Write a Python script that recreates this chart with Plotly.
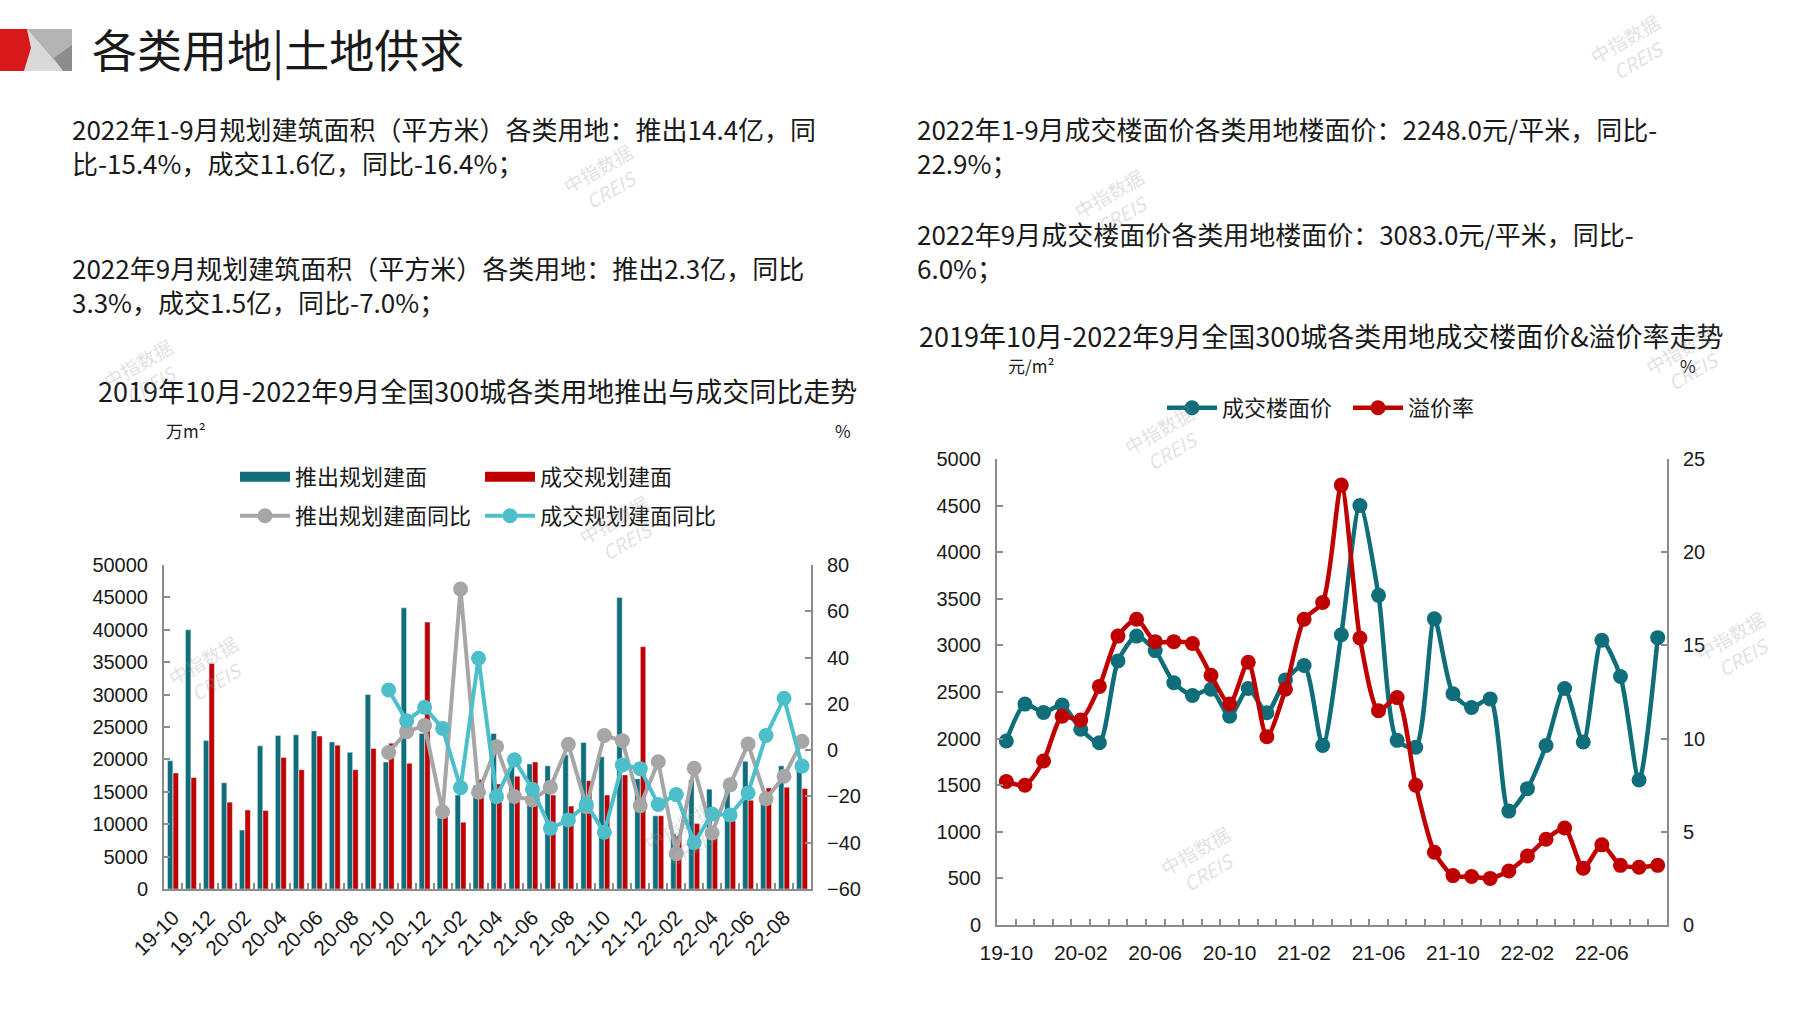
import plotly.graph_objects as go

W, H = 1797, 1010

# ---------------------------------------------------------------------------
# data
# ---------------------------------------------------------------------------
months = [
    "19-10", "19-11", "19-12", "20-01", "20-02", "20-03", "20-04", "20-05",
    "20-06", "20-07", "20-08", "20-09", "20-10", "20-11", "20-12", "21-01",
    "21-02", "21-03", "21-04", "21-05", "21-06", "21-07", "21-08", "21-09",
    "21-10", "21-11", "21-12", "22-01", "22-02", "22-03", "22-04", "22-05",
    "22-06", "22-07", "22-08", "22-09",
]

# 万m²
supply_area = [
    19800, 40000, 22900, 16400, 9100, 22100, 23700, 23800,
    24400, 22700, 21100, 30000, 19600, 43400, 24000, 11000,
    14500, 16000, 24000, 19000, 19300, 19000, 20700, 22600,
    20400, 45000, 17000, 11300, 8500, 16800, 15400, 15300,
    19700, 14500, 19000, 18700,
]
deal_area = [
    17900, 17200, 34800, 13400, 12200, 12100, 20300, 18400,
    23600, 22200, 18400, 21700, 22500, 19400, 41200, 12000,
    10300, 16900, 16200, 17400, 19600, 14500, 12800, 16700,
    14500, 17600, 37400, 11300, 8200, 10100, 9000, 10500,
    13700, 15600, 15700, 15500,
]

# %
supply_yoy = [None] * 12 + [
    -1, 8, 10.6, -26.6, 69.6, -18.2, 1.5, -20,
    -21.5, -16, 2.5, -24.4, 6.3, 4.1, -24, -5,
    -44.8, -7.8, -35.8, -15, 2.7, -21, -11.3, 3.8,
]
deal_yoy = [None] * 12 + [
    26, 12.7, 18.5, 9.4, -16.2, 39.7, -20.1, -4.2,
    -16.9, -33.8, -30.2, -23.4, -35.5, -6.4, -8, -23.5,
    -19.2, -40, -27.6, -28, -18.5, 6.3, 22.4, -6.9,
]

# 元/m²
floor_price = [
    1975, 2370, 2280, 2360, 2100, 1956, 2833, 3100,
    2944, 2600, 2463, 2530, 2241, 2537, 2278, 2630,
    2785, 1926, 3115, 4500, 3537, 1981, 1907, 3285,
    2481, 2333, 2426, 1222, 1463, 1926, 2537, 1963,
    3056, 2667, 1556, 3083,
]
# %
premium_rate = [
    7.7, 7.5, 8.8, 11.2, 11.0, 12.8, 15.5, 16.4,
    15.2, 15.2, 15.1, 13.4, 11.85, 14.1, 10.1, 12.65,
    16.4, 17.3, 23.6, 15.4, 11.5, 12.2, 7.5, 3.9,
    2.65, 2.6, 2.5, 2.9, 3.7, 4.6, 5.2, 3.05,
    4.3, 3.2, 3.1, 3.2,
]

left_tick_labels = months[::2]
right_tick_labels = months[::4]

# ---------------------------------------------------------------------------
# style
# ---------------------------------------------------------------------------
TEAL = "#0F6E7A"
RED = "#C00000"
GRAY = "#A6A6A6"
CYAN = "#4DBFCB"
AXIS = "#8C8C8C"
TXT = "#1A1A1A"
CJK = "Noto Sans CJK SC"
NUM = "Liberation Sans"


def px(x):
    return x / W


def py(y):
    return 1 - y / H


fig = go.Figure()

# ── left chart: supply / deal area + yoy ─────────────────────────────────
for name, vals, color in [("推出规划建面", supply_area, TEAL),
                          ("成交规划建面", deal_area, RED)]:
    fig.add_trace(go.Bar(
        x=months, y=vals, name=name, marker_color=color,
        xaxis="x", yaxis="y", showlegend=False, legendgroup=name,
    ))
    # legend swatch drawn as a wide block, like the original
    fig.add_trace(go.Scatter(
        x=[None], y=[None], name=name, mode="lines", legendgroup=name,
        line=dict(color=color, width=14), xaxis="x", yaxis="y",
        legend="legend",
    ))

fig.add_trace(go.Scatter(
    x=months, y=supply_yoy, name="推出规划建面同比", mode="lines+markers",
    line=dict(color=GRAY, width=4), marker=dict(size=15, color=GRAY),
    xaxis="x", yaxis="y2", legend="legend2",
))
fig.add_trace(go.Scatter(
    x=months, y=deal_yoy, name="成交规划建面同比", mode="lines+markers",
    line=dict(color=CYAN, width=4), marker=dict(size=15, color=CYAN),
    xaxis="x", yaxis="y2", legend="legend2",
))

# ── right chart: floor price + premium rate ───────────────────────────────
fig.add_trace(go.Scatter(
    x=months, y=floor_price, name="成交楼面价", mode="lines+markers",
    line=dict(color=TEAL, width=4.5, shape="spline", smoothing=0.7),
    marker=dict(size=15, color=TEAL),
    xaxis="x2", yaxis="y3", legend="legend3",
))
fig.add_trace(go.Scatter(
    x=months, y=premium_rate, name="溢价率", mode="lines+markers",
    line=dict(color=RED, width=4.5, shape="spline", smoothing=0.7),
    marker=dict(size=15, color=RED),
    xaxis="x2", yaxis="y4", legend="legend3",
))

axis_common = dict(
    showline=True, linecolor=AXIS, linewidth=2, showgrid=False, zeroline=False,
    ticks="inside", ticklen=6, tickwidth=1.5, tickcolor=AXIS,
    tickfont=dict(family=NUM, size=20, color=TXT),
)
legend_common = dict(
    xanchor="left", yanchor="middle", orientation="h",
    entrywidthmode="pixels", itemwidth=50, bgcolor="rgba(0,0,0,0)",
    font=dict(family=CJK, size=22, color=TXT),
)

fig.update_layout(
    width=W, height=H,
    margin=dict(l=0, r=0, t=0, b=0, autoexpand=False),
    paper_bgcolor="white", plot_bgcolor="white",
    barmode="group", bargap=0.38, bargroupgap=0.04,
    xaxis=dict(
        axis_common, domain=[px(164), px(811)], anchor="y", type="category",
        range=[-0.5, len(months) - 0.5],
        tickmode="array", tickvals=months,
        ticktext=[m if m in left_tick_labels else "" for m in months],
        tickson="boundaries", tickangle=-45, ticklabelstandoff=6,
        tickfont=dict(family=NUM, size=21, color=TXT),
    ),
    yaxis=dict(
        axis_common, domain=[py(889), py(565)], anchor="x",
        range=[0, 50000], dtick=5000, tickformat="d", ticklabelstandoff=10,
    ),
    yaxis2=dict(
        axis_common, overlaying="y", side="right", anchor="x",
        range=[-60, 80], dtick=20, ticklabelstandoff=10,
    ),
    xaxis2=dict(
        axis_common, domain=[px(997), px(1667)], anchor="y3", type="category",
        range=[-0.5, len(months) - 0.5],
        tickmode="array", tickvals=months,
        ticktext=[m if m in right_tick_labels else "" for m in months],
        tickson="boundaries", tickangle=0, ticklabelstandoff=8,
        tickfont=dict(family=NUM, size=21, color=TXT),
    ),
    yaxis3=dict(
        axis_common, domain=[py(925), py(459)], anchor="x2",
        range=[0, 5000], dtick=500, tickformat="d", ticklabelstandoff=10,
    ),
    yaxis4=dict(
        axis_common, overlaying="y3", side="right", anchor="x2",
        range=[0, 25], dtick=5, ticklabelstandoff=10,
    ),
    legend=dict(legend_common, x=px(235), y=py(477), entrywidth=180),
    legend2=dict(legend_common, x=px(235), y=py(516), entrywidth=180),
    legend3=dict(legend_common, x=px(1162), y=py(408), entrywidth=121),
)

# ── page texts ────────────────────────────────────────────────────────────
texts = [
    # (x, y, text, size, anchor)
    (90, 48, "各类用地|土地供求", 45, "left"),
    (70, 145, "2022年1-9月规划建筑面积（平方米）各类用地：推出14.4亿，同<br>"
              "比-15.4%，成交11.6亿，同比-16.4%；", 26, "left"),
    (70, 284, "2022年9月规划建筑面积（平方米）各类用地：推出2.3亿，同比<br>"
              "3.3%，成交1.5亿，同比-7.0%；", 26, "left"),
    (915, 145, "2022年1-9月成交楼面价各类用地楼面价：2248.0元/平米，同比-<br>"
               "22.9%；", 26, "left"),
    (915, 250, "2022年9月成交楼面价各类用地楼面价：3083.0元/平米，同比-<br>"
               "6.0%；", 26, "left"),
    (477, 390, "2019年10月-2022年9月全国300城各类用地推出与成交同比走势", 27, "center"),
    (1321, 335, "2019年10月-2022年9月全国300城各类用地成交楼面价&溢价率走势", 27, "center"),
    (164, 431, "万m²", 17, "left"),
    (843, 431, "%", 17, "center"),
    (1031, 365, "元/m²", 17, "center"),
    (1688, 365, "%", 17, "center"),
]
for x, y, t, size, anchor in texts:
    fig.add_annotation(
        x=px(x), y=py(y), xref="paper", yref="paper", text=t, showarrow=False,
        xanchor=anchor, yanchor="middle", align="left",
        font=dict(family=CJK, size=size, color=TXT),
    )

# watermarks
for x, y in [(555, 135), (1115, 160), (95, 330), (1735, 360), (1165, 440),
             (620, 530), (160, 715), (1785, 690), (685, 880), (1250, 905),
             (1680, 5)]:
    fig.add_annotation(
        x=px(x), y=py(y), xref="paper", yref="paper",
        text="中指数据<br><i>CREIS</i>", showarrow=False, textangle=-30,
        font=dict(family=CJK, size=19, color="rgba(150,150,150,0.3)"),
    )


# ── header logo ───────────────────────────────────────────────────────────
def poly(points, color):
    d = "M " + " L ".join(f"{px(a)},{py(b)}" for a, b in points) + " Z"
    fig.add_shape(type="path", path=d, xref="paper", yref="paper",
                  fillcolor=color, line=dict(width=0), layer="above")


poly([(27, 29), (72, 29), (72, 71), (63, 71)], "#B4B4B4")
poly([(27, 29), (63, 71), (24, 71), (31, 48)], "#D9D9D9")
poly([(54, 58), (72, 45), (72, 71), (63, 71)], "#8C8C8C")
poly([(0, 29), (27, 29), (31, 48), (24, 71), (0, 71)], "#D7191C")

fig.write_html(
    "out.html",
    config={"displayModeBar": False},
    post_script="document.body.style.margin='0';document.body.style.overflow='hidden';",
)
